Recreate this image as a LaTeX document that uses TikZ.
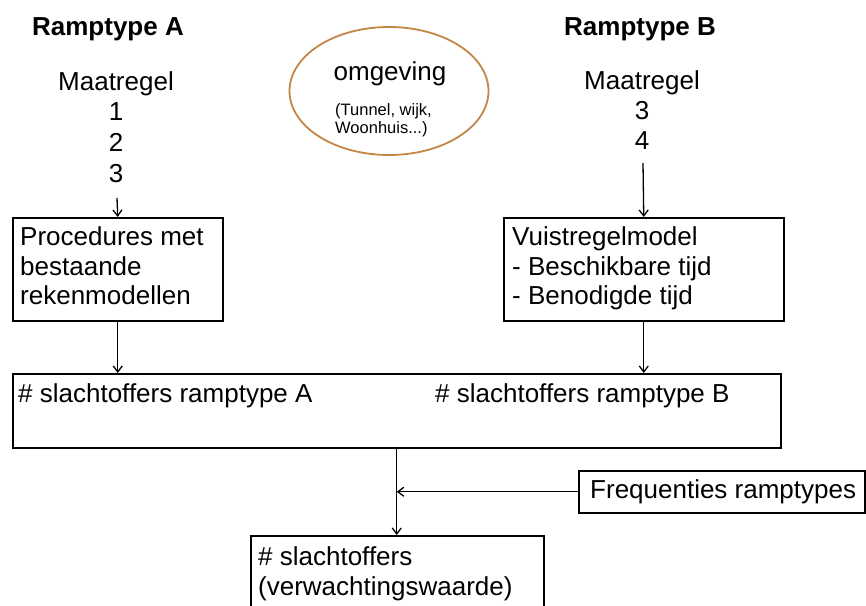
\documentclass[tikz,border=0pt]{standalone}
\usepackage{fontspec}
\setmainfont{Liberation Sans}
\usetikzlibrary{arrows.meta,shapes.geometric}
\definecolor{ellcol}{RGB}{196,134,70}
\begin{document}
\begin{tikzpicture}[x=1pt,y=-1pt,
  txt/.style={font=\fontsize{26}{30}\selectfont, inner sep=0pt, anchor=base west},
  ctxt/.style={font=\fontsize{26}{30}\selectfont, inner sep=0pt, anchor=base},
  ttl/.style={font=\fontsize{26}{30}\selectfont\bfseries, inner sep=0pt, anchor=base},
  small/.style={font=\fontsize{16.5}{18.5}\selectfont, inner sep=0pt, anchor=base west},
  box/.style={draw=black, line width=1.5pt, inner sep=0pt, anchor=north west},
  arr/.style={draw=black, line width=1.3pt, -{Straight Barb[length=6pt,width=9pt]}},
  ln/.style={draw=black, line width=1.3pt}]
\useasboundingbox (0,0) rectangle (866,605);
\clip (0,0) rectangle (866,605);

% titles
\node[ttl] (ttlA) at (108,35) {Ramptype A};
\node[ttl] (ttlB) at (640,35) {Ramptype B};

% maatregelen A
\node[ctxt] (mA) at (116,90) {Maatregel};
\node[ctxt] (nA1) at (116,120) {1};
\node[ctxt] (nA2) at (116,151) {2};
\node[ctxt] (nA3) at (116,182) {3};

% maatregelen B
\node[ctxt] (mB) at (642,89) {Maatregel};
\node[ctxt] (nB3) at (642,119) {3};
\node[ctxt] (nB4) at (642,149) {4};

% omgeving
\node[draw=ellcol, line width=1.8pt, ellipse, minimum width=199pt, minimum height=128pt, inner sep=0pt] (env) at (389,91) {};
\node[ctxt] (omg) at (390,80) {omgeving};
\node[small] (omg1) at (335,115) {(Tunnel, wijk,};
\node[small] (omg2) at (335,133) {Woonhuis...)};

% box A
\node[box, minimum width=210pt, minimum height=103pt] (boxA) at (12,217) {};
\node[txt] (tA1) at (20,245) {Procedures met};
\node[txt] (tA2) at (20,275) {bestaande};
\node[txt] (tA3) at (20,304) {rekenmodellen};

% box B
\node[box, minimum width=280pt, minimum height=103pt] (boxB) at (503,217) {};
\node[txt] (tB1) at (512,245) {Vuistregelmodel};
\node[txt] (tB2) at (512,275) {- Beschikbare tijd};
\node[txt] (tB3) at (512,304) {- Benodigde tijd};

% big box
\node[box, minimum width=768pt, minimum height=74pt] (big) at (12,373) {};
\node[txt] (sA) at (18,402) {\# slachtoffers ramptype A};
\node[txt] (sB) at (435,402) {\# slachtoffers ramptype B};

% frequenties
\node[box, minimum width=286pt, minimum height=42pt] (freq) at (578,470) {};
\node[txt] (fr) at (590,498) {Frequenties ramptypes};

% final box
\node[box, minimum width=293pt, minimum height=100pt] (fin) at (250,535) {};
\node[txt] (f1) at (258,565) {\# slachtoffers};
\node[txt] (f2) at (258,595) {(verwachtingswaarde)};

% connectors
\coordinate (aAs) at (117,198);
\coordinate (aBs) at (643,163);
\draw[arr] (aAs) -- (boxA.north);
\draw[arr] (aBs) -- (boxB.north);
\draw[arr] (boxA.south) -- (boxA.south |- big.north);
\draw[arr] (boxB.south) -- (boxB.south |- big.north);
\draw[arr] (big.south) -- (big.south |- fin.north);
\draw[arr] (freq.west) -- (freq.west -| big.south);
\end{tikzpicture}
\end{document}
